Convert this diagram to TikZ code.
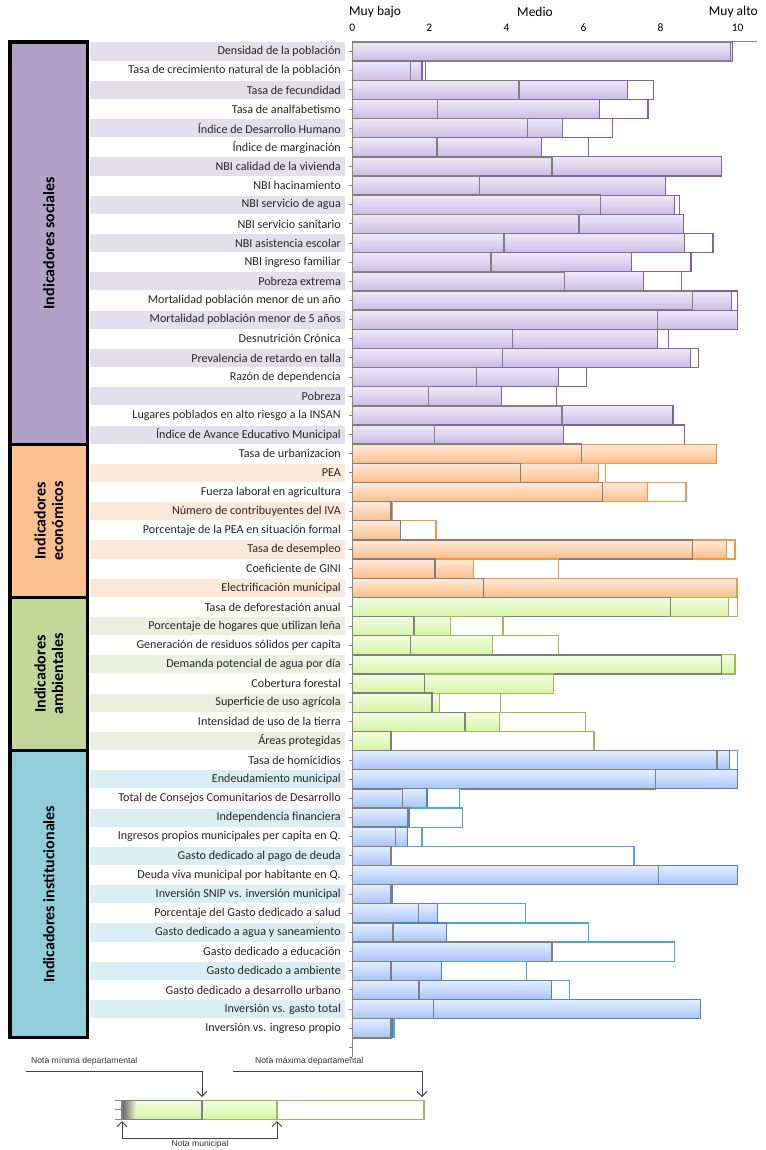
\documentclass[tikz,border=0pt]{standalone}
\usepackage{fontspec}
\setmainfont{Carlito}
\newfontfamily\legfont{Liberation Sans}
\usetikzlibrary{arrows.meta, positioning}

\definecolor{socBox}{HTML}{B1A0C7}
\definecolor{ecoBox}{HTML}{FAC090}
\definecolor{ambBox}{HTML}{C4D79B}
\definecolor{insBox}{HTML}{92CDDC}
\definecolor{socStripe}{HTML}{E4DFEC}
\definecolor{ecoStripe}{HTML}{FDE9D9}
\definecolor{ambStripe}{HTML}{EBF1DE}
\definecolor{insStripe}{HTML}{DAEEF3}
\definecolor{purpleTop}{HTML}{EEE9F7}
\definecolor{purpleBot}{HTML}{CBBCE6}
\definecolor{purpleLine}{HTML}{8064A2}
\definecolor{orangeTop}{HTML}{FFEADB}
\definecolor{orangeBot}{HTML}{FBBE8A}
\definecolor{orangeLine}{HTML}{F79646}
\definecolor{greenTop}{HTML}{F3FEE4}
\definecolor{greenBot}{HTML}{D6F5A3}
\definecolor{greenLine}{HTML}{9BBB59}
\definecolor{blueTop}{HTML}{E4EEFF}
\definecolor{blueBot}{HTML}{A7C5F8}
\definecolor{blueLine}{HTML}{4F81BD}
\definecolor{tealLine}{HTML}{4BACC6}
\definecolor{axisGray}{HTML}{868686}
\definecolor{minGray}{HTML}{7F7F7F}
\definecolor{legGray}{HTML}{404040}

\begin{document}
\begin{tikzpicture}[x=1pt, y=-1pt,
    catbox/.style={draw=black, line width=3.3pt, rotate=90, outer sep=0pt, align=center, font=\fontsize{16}{17.5}\selectfont\bfseries},
    rowlabel/.style={anchor=east, inner sep=0pt, text=black!85, font=\fontsize{12.1}{13}\selectfont},
    scalelabel/.style={inner sep=0pt, font=\fontsize{13.5}{15}\selectfont},
    ticklabel/.style={inner sep=0pt, font=\fontsize{11.5}{13}\selectfont},
    axisline/.style={draw=axisGray, line width=1pt},
    stripeS/.style={fill=socStripe}, stripeE/.style={fill=ecoStripe},
    stripeA/.style={fill=ambStripe}, stripeI/.style={fill=insStripe},
    barS/.style={draw=purpleLine, line width=1.2pt, top color=purpleTop, bottom color=purpleBot},
    barE/.style={draw=orangeLine, line width=1.2pt, top color=orangeTop, bottom color=orangeBot},
    barA/.style={draw=greenLine, line width=1.2pt, top color=greenTop, bottom color=greenBot},
    barI/.style={draw=blueLine, line width=1.2pt, top color=blueTop, bottom color=blueBot},
    rimS/.style={draw=purpleLine, line width=1.2pt, fill=white},
    rimE/.style={draw=orangeLine, line width=1.2pt, fill=white},
    rimA/.style={draw=greenLine, line width=1.2pt, fill=white},
    rimI/.style={draw=tealLine, line width=1.2pt, fill=white},
    minline/.style={draw=minGray, line width=1.4pt},
    legtext/.style={inner sep=0pt, text=black!80, font=\legfont\fontsize{8.6}{10}\selectfont},
    legarrow/.style={draw=legGray, line width=1pt, -{Straight Barb[length=5pt, width=10pt]}}]

\useasboundingbox (0,0) rectangle (765,1150);

% category boxes
\node (soc) [catbox, fill=socBox, minimum width=402.2pt, minimum height=77.7pt] at (48.85,243.1) {Indicadores sociales};
\node (eco) [catbox, fill=ecoBox, minimum width=153.2pt, minimum height=77.7pt] at (48.85,520.8) {Indicadores\\econ\'omicos};
\node (amb) [catbox, fill=ambBox, minimum width=153.2pt, minimum height=77.7pt] at (48.85,674) {Indicadores\\ambientales};
\node (ins) [catbox, fill=insBox, minimum width=287.2pt, minimum height=77.7pt] at (48.85,894.2) {Indicadores institucionales};

% scale on top
\node (low) [scalelabel, anchor=west] at (349,12) {Muy bajo};
\node (mid) [scalelabel] at (535,12) {Medio};
\node (high) [scalelabel, anchor=east] at (758,12) {Muy alto};
\foreach \v in {0,2,...,10}
  \node (tick\v) [ticklabel] at ({352.3+38.54*\v},28) {\v};

% rows: minimo / municipal / maximo / grupo / indicador
\foreach \m/\u/\M/\g/\txt [count=\i] in {
  9.82/9.87/9.87/S/Densidad de la población,
  1.51/1.81/1.89/S/Tasa de crecimiento natural de la población,
  4.33/7.14/7.81/S/Tasa de fecundidad,
  2.21/6.41/7.67/S/Tasa de analfabetismo,
  4.55/5.46/6.75/S/Índice de Desarrollo Humano,
  2.20/4.90/6.12/S/Índice de marginación,
  5.18/9.57/9.57/S/NBI calidad de la vivienda,
  3.30/8.12/8.12/S/NBI hacinamiento,
  6.44/8.36/8.48/S/NBI servicio de agua,
  5.88/8.60/8.60/S/NBI servicio sanitario,
  3.94/8.62/9.36/S/NBI asistencia escolar,
  3.60/7.25/8.79/S/NBI ingreso familiar,
  5.51/7.55/8.55/S/Pobreza extrema,
  8.82/9.84/10/S/Mortalidad población menor de un año,
  7.92/10/10/S/Mortalidad población menor de 5 años,
  4.16/7.91/8.21/S/Desnutrición Crónica,
  3.90/8.78/8.98/S/Prevalencia de retardo en talla,
  3.23/5.36/6.07/S/Razón de dependencia,
  1.97/3.87/5.29/S/Pobreza,
  5.44/8.30/8.34/S/Lugares poblados en alto riesgo a la INSAN,
  2.13/5.48/8.61/S/Índice de Avance Educativo Municipal,
  5.94/9.45/9.45/E/Tasa de urbanizacion,
  4.37/6.38/6.57/E/PEA,
  6.49/7.66/8.66/E/Fuerza laboral en agricultura,
  1.00/1.05/1.05/E/Número de contribuyentes del IVA,
  1.25/1.25/2.17/E/Porcentaje de la PEA en situación formal,
  8.83/9.71/9.93/E/Tasa de desempleo,
  2.15/3.14/5.35/E/Coeficiente de GINI,
  3.41/9.97/10/E/Electrificación municipal,
  8.25/9.76/10/A/Tasa de deforestación anual,
  1.60/2.54/3.91/A/Porcentaje de hogares que utilizan leña,
  1.51/3.63/5.35/A/Generación de residuos sólidos per capita,
  9.58/9.93/9.93/A/Demanda potencial de agua por día,
  1.88/5.23/5.23/A/Cobertura forestal,
  2.07/2.26/3.84/A/Superficie de uso agrícola,
  2.92/3.81/6.05/A/Intensidad de uso de la tierra,
  1.00/1.00/6.27/A/Áreas protegidas,
  9.46/9.78/10/I/Tasa de homicidios,
  7.86/10/10/I/Endeudamiento municipal,
  1.30/1.94/2.78/I/Total de Consejos Comunitarios de Desarrollo,
  1.45/1.48/2.85/I/Independencia financiera,
  1.12/1.44/1.81/I/Ingresos propios municipales per capita en Q.,
  1.00/1.00/7.31/I/Gasto dedicado al pago de deuda,
  7.94/10/10/I/Deuda viva municipal por habitante en Q.,
  1.00/1.04/1.04/I/Inversión SNIP vs. inversión municipal,
  1.71/2.21/4.49/I/Porcentaje del Gasto dedicado a salud,
  1.06/2.45/6.12/I/Gasto dedicado a agua y saneamiento,
  5.18/5.18/8.35/I/Gasto dedicado a educación,
  1.00/2.32/4.53/I/Gasto dedicado a ambiente,
  1.73/5.16/5.63/I/Gasto dedicado a desarrollo urbano,
  2.11/9.04/9.04/I/Inversión vs. gasto total,
  1.00/1.04/1.08/I/Inversión vs. ingreso propio}
{
  \pgfmathsetmacro\yt{42+(\i-1)*19.15}
  \pgfmathsetmacro\yb{\yt+19.15}
  \pgfmathsetmacro\yc{\yt+9.575}
  \ifodd\i
    \fill[stripe\g] (90,\yt+0.5) rectangle (345,\yb-0.5);
  \fi
  \node (lab\i) [rowlabel] at (341,\yc) {\txt};
  \draw[rim\g] (352.3,\yt) rectangle ({352.3+38.54*\M},\yb);
  \draw[bar\g] (352.3,\yt) rectangle ({352.3+38.54*\u},\yb);
  \draw[minline] (352.3,\yt) rectangle ({352.3+38.54*\m},\yb);
}

% axes
\draw[axisline] (352.3,42) -- (757,42);
\draw[axisline] (352.3,42) -- (352.3,1057);
\foreach \k in {1,...,53}
  \draw[axisline] (348.5,{42+(\k-0.5)*19.15}) -- (352.3,{42+(\k-0.5)*19.15});
\draw[axisline] (348.5,1057) -- (352.3,1057);

% legend
\node (nmin) [legtext, anchor=west] at (31,1061) {Nota mínima departamental};
\node (nmax) [legtext, anchor=west] at (255,1061) {Nota máxima departamental};
\coordinate (minStart) at (26,1071);
\coordinate (minBend) at (202,1071);
\coordinate (minTip) at (202,1097);
\coordinate (maxStart) at (233,1071);
\coordinate (maxBend) at (422,1071);
\coordinate (maxTip) at (422,1097);
\draw[legarrow] (minStart) -- (minBend) -- (minTip);
\draw[legarrow] (maxStart) -- (maxBend) -- (maxTip);

\draw[rimA] (122,1100.3) rectangle (424,1119.3);
\draw[barA] (122,1100.3) rectangle (277,1119.3);
\shade[left color=black!60, right color=greenTop!60!greenBot] (122,1100.3) rectangle (136,1119.3);
\draw[minline] (122,1100.3) rectangle (202,1119.3);
\foreach \t in {1100.3,1109.8,1119.3}
  \draw[axisline, line width=0.8pt] (115,\t) -- (122,\t);

\coordinate (munL) at (122,1121);
\coordinate (munLow) at (122,1138);
\coordinate (munRLow) at (277,1138);
\coordinate (munR) at (277,1121);
\draw[legarrow, {Straight Barb[length=5pt, width=10pt]}-{Straight Barb[length=5pt, width=10pt]}] (munL) -- (munLow) -- (munRLow) -- (munR);
\node (nmun) [legtext] at (200,1144.5) {Nota municipal};

\end{tikzpicture}
\end{document}
